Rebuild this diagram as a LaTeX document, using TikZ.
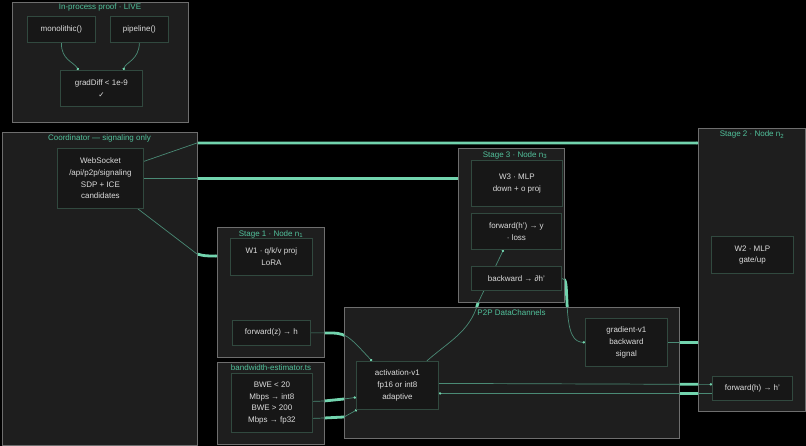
\documentclass[tikz,border=0pt]{standalone}
\usepackage{fontspec}
\setmainfont{Liberation Sans}
\newfontfamily\symfont{DejaVu Sans}
\usetikzlibrary{arrows.meta,calc}
\definecolor{contfill}{HTML}{1E1E1E}
\definecolor{contline}{HTML}{6E6E6E}
\definecolor{boxfill}{HTML}{171717}
\definecolor{boxline}{HTML}{31493F}
\definecolor{titlec}{HTML}{52C29C}
\definecolor{textc}{HTML}{DCDCDC}
\definecolor{mint}{HTML}{72D4AE}
\definecolor{tealgray}{HTML}{4A8A75}
\pgfdeclarelayer{bgl}\pgfdeclarelayer{thick}\pgfdeclarelayer{cont}\pgfdeclarelayer{thin}
\pgfsetlayers{bgl,cont,thin,thick,main}
\tikzset{
  contbox/.style={draw=contline, fill=contfill, line width=0.9pt, inner sep=0pt, anchor=north west},
  ibox/.style={draw=boxline, fill=boxfill, line width=0.8pt, inner sep=1pt, anchor=north west,
    text=textc, font=\fontsize{8}{11.6}\selectfont, align=center},
  ttl/.style={text=titlec, font=\fontsize{8}{10}\selectfont, inner sep=0pt},
  thkedge/.style={draw=mint, line width=2.8pt},
  thnedge/.style={draw=tealgray, line width=0.7pt, -{Circle[length=2.4pt,color=mint]}}
}
\newcommand\gapclip{\clip (-5,-5) rectangle (811,451)
  (proof.north west) rectangle (proof.south east)
  (coord.north west) rectangle (coord.south east)
  (stage1.north west) rectangle (stage1.south east)
  (bwe.north west) rectangle (bwe.south east)
  (stage3.north west) rectangle (stage3.south east)
  (p2p.north west) rectangle (p2p.south east)
  (stage2.north west) rectangle (stage2.south east);}
\newcommand\conn[1]{%
  \begin{pgfonlayer}{thick}\begin{scope}[even odd rule]\gapclip\draw[thkedge] #1;\end{scope}\end{pgfonlayer}%
  \begin{pgfonlayer}{thin}\draw[thnedge] #1;\end{pgfonlayer}}
\begin{document}
\begin{tikzpicture}[x=1pt,y=-1pt]
\useasboundingbox (0,0) rectangle (806,446);
\begin{pgfonlayer}{bgl}
\fill[black] (0,0) rectangle (806,446);
\end{pgfonlayer}
% containers
\begin{pgfonlayer}{cont}
\node[contbox, minimum width=176pt, minimum height=120pt] (proof) at (12,2) {};
\node[contbox, minimum width=195pt, minimum height=313pt] (coord) at (2,132) {};
\node[contbox, minimum width=107pt, minimum height=130pt] (stage1) at (217,227) {};
\node[contbox, minimum width=107pt, minimum height=82pt] (bwe) at (217,362) {};
\node[contbox, minimum width=106pt, minimum height=154pt] (stage3) at (458,148) {};
\node[contbox, minimum width=335pt, minimum height=131pt] (p2p) at (344,307) {};
\node[contbox, minimum width=107pt, minimum height=283pt] (stage2) at (698,128) {};
\end{pgfonlayer}
% titles
\node[ttl] (proofT) at (100,7.5) {In-process proof · LIVE};
\node[ttl] (coordT) at (99.5,138) {Coordinator — signaling only};
\node[ttl] (stage1T) at (271,234) {Stage 1 · Node n\textsubscript{1}};
\node[ttl] (bweT) at (271,367.5) {bandwidth-estimator.ts};
\node[ttl] (stage3T) at (515,155) {Stage 3 · Node n\textsubscript{3}};
\node[ttl] (p2pT) at (511.5,313) {P2P DataChannels};
\node[ttl] (stage2T) at (752,134.5) {Stage 2 · Node n\textsubscript{2}};
% inner boxes
\node[ibox, minimum width=68pt, minimum height=26pt] (mono) at (27,16) {monolithic()};
\node[ibox, minimum width=58pt, minimum height=26pt] (pipe) at (110,16) {pipeline()};
\node[ibox, minimum width=82pt, minimum height=36pt] (grad) at (60,70) {gradDiff < 1e-9\\{\symfont\fontsize{7.5}{11.6}\selectfont ✓}};
\node[ibox, minimum width=86pt, minimum height=60pt] (ws) at (57,148) {WebSocket\\/api/p2p/signaling\\SDP + ICE\\candidates};
\node[ibox, minimum width=82pt, minimum height=37pt] (w1) at (230,238) {W1 · q/k/v proj\\LoRA};
\node[ibox, minimum width=78pt, minimum height=25pt] (fz) at (232,320) {forward(z) → h};
\node[ibox, minimum width=81pt, minimum height=59pt] (bweb) at (231,373) {BWE < 20\\Mbps → int8\\BWE > 200\\Mbps → fp32};
\node[ibox, minimum width=91pt, minimum height=46pt] (w3) at (471,160) {W3 · MLP\\down + o proj};
\node[ibox, minimum width=90pt, minimum height=36pt] (fh) at (471,213) {forward(h') → y\\· loss};
\node[ibox, minimum width=90pt, minimum height=24pt] (bw) at (471,266) {backward → ∂h'};
\node[ibox, minimum width=82pt, minimum height=37pt] (w2) at (711,236) {W2 · MLP\\gate/up};
\node[ibox, minimum width=80pt, minimum height=24pt] (fhp) at (712,376) {forward(h) → h'};
\node[ibox, minimum width=82pt, minimum height=48pt] (act) at (356,361) {activation-v1\\fp16 or int8\\adaptive};
\node[ibox, minimum width=82pt, minimum height=48pt] (gv) at (585,318) {gradient-v1\\backward\\signal};
% waypoints
\coordinate (a1) at (197,143);
\coordinate (c1) at (197,254);
\coordinate (e1a) at (324,401);
\coordinate (e1b) at (344,399);
\coordinate (e2a) at (324,418);
\coordinate (e2b) at (344,417);
\coordinate (f1) at (478,303);
\coordinate (g1) at (567,302);
% proof connectors
\begin{pgfonlayer}{thin}
\draw[thnedge] (mono.south) .. controls (61,60) and (74,62) .. ([xshift=-23pt]grad.north);
\draw[thnedge] (pipe.south) .. controls (139,60) and (126,62) .. ([xshift=22pt]grad.north);
\end{pgfonlayer}
% connectors
\conn{([yshift=17pt]ws.east) -- (a1) -- (a1 -| stage2.west)}
\conn{(ws.east) -- (ws.east -| stage3.west)}
\conn{([xshift=-6pt]ws.south east) -- (c1) .. controls (205,256) .. ([yshift=-29pt]stage1.north west)}
\conn{(fz.east) -- (fz.east -| stage1.east) .. controls (346,333) .. ([xshift=16pt]act.north west)}
\conn{([yshift=1.5pt]bweb.east) -- (e1a) -- (e1b) -- ([yshift=-12pt]act.west)}
\conn{([yshift=-15.5pt]bweb.east) -- (e2a) -- (e2b) -- ([xshift=1pt]act.south west)}
\conn{([xshift=-12pt]act.north east) .. controls (448,342) and (470,332) .. (f1) -- ([xshift=-13pt]fh.south)}
\conn{(bw.east) .. controls (567,278) and (566,288) .. (g1) .. controls (568,335) and (574,342) .. (gv.west)}
\conn{(gv.east) -- (gv.east -| stage2.west)}
\conn{([yshift=2pt]act.east) -- ([yshift=4pt]fhp.west)}
\conn{([yshift=-5pt]fhp.west) -- ([yshift=-8pt]act.east)}
\end{tikzpicture}
\end{document}
